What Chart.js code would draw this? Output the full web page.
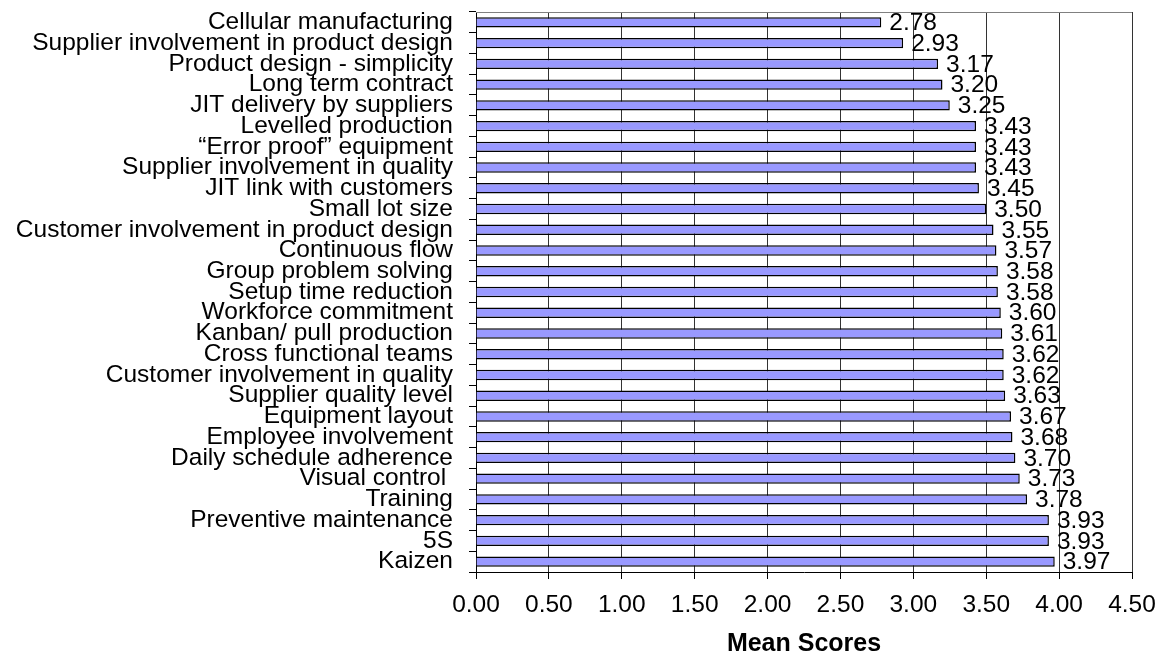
<!DOCTYPE html>
<html lang="en">
<head>
    <meta charset="UTF-8">
    <title>Mean Scores</title>
    <script src="https://cdn.jsdelivr.net/npm/chart.js@4.4.0/dist/chart.umd.min.js"></script>
    <style>
        body {
            margin: 0;
            background: #ffffff;
        }
        .chart-container {
            position: relative;
            width: 1158px;
            height: 657px;
        }
    </style>
</head>
<body>
    <div class="chart-container">
        <canvas id="meanChart"></canvas>
    </div>

    <script>
        // Practices, top to bottom as in the picture
        const practices = [
            'Cellular manufacturing',
            'Supplier involvement in product design',
            'Product design - simplicity',
            'Long term contract',
            'JIT delivery by suppliers',
            'Levelled production',
            '\u201cError proof\u201d equipment',
            'Supplier involvement in quality',
            'JIT link with customers',
            'Small lot size',
            'Customer involvement in product design',
            'Continuous flow',
            'Group problem solving',
            'Setup time reduction',
            'Workforce commitment',
            'Kanban/ pull production',
            'Cross functional teams',
            'Customer involvement in quality',
            'Supplier quality level',
            'Equipment layout',
            'Employee involvement',
            'Daily schedule adherence',
            'Visual control ',
            'Training',
            'Preventive maintenance',
            '5S',
            'Kaizen'
        ];
        const meanScores = [2.78, 2.93, 3.17, 3.20, 3.25, 3.43, 3.43, 3.43, 3.45, 3.50,
                            3.55, 3.57, 3.58, 3.58, 3.60, 3.61, 3.62, 3.62, 3.63, 3.67,
                            3.68, 3.70, 3.73, 3.78, 3.93, 3.93, 3.97];
        const axisMin = 0;
        const axisMax = 4.5;
        const axisStep = 0.5;
        const axisTitle = 'Mean Scores';

        const fontFamily = '"Liberation Sans", Arial, sans-serif';
        Chart.defaults.font.family = fontFamily;
        Chart.defaults.color = '#000';

        // value labels at the end of each bar
        const valueLabels = {
            id: 'valueLabels',
            afterDatasetsDraw(chart) {
                const ctx = chart.ctx;
                const meta = chart.getDatasetMeta(0);
                ctx.save();
                ctx.font = '24.5px ' + fontFamily;
                ctx.fillStyle = '#000';
                ctx.textAlign = 'left';
                ctx.textBaseline = 'middle';
                meta.data.forEach((bar, i) => {
                    ctx.fillText(meanScores[i].toFixed(2), bar.x + 8, bar.y + 1);
                });
                ctx.restore();
            }
        };

        // grey line along the top of the plot area
        const topBorder = {
            id: 'topBorder',
            afterDraw(chart) {
                const a = chart.chartArea;
                const ctx = chart.ctx;
                ctx.save();
                ctx.strokeStyle = '#808080';
                ctx.lineWidth = 1;
                ctx.beginPath();
                ctx.moveTo(a.left, a.top + 0.5);
                ctx.lineTo(a.right, a.top + 0.5);
                ctx.stroke();
                ctx.restore();
            }
        };

        const ctx = document.getElementById('meanChart').getContext('2d');
        new Chart(ctx, {
            type: 'bar',
            data: {
                labels: practices,
                datasets: [{
                    data: meanScores,
                    backgroundColor: '#9999ff',
                    borderColor: '#000',
                    borderWidth: 1.5,
                    barPercentage: 0.5,
                    categoryPercentage: 1.0
                }]
            },
            plugins: [valueLabels, topBorder],
            options: {
                indexAxis: 'y',
                responsive: true,
                maintainAspectRatio: false,
                animation: false,
                layout: {
                    padding: { top: 12, right: 26, bottom: 0, left: 0 }
                },
                plugins: {
                    legend: { display: false },
                    tooltip: { enabled: false }
                },
                scales: {
                    x: {
                        min: axisMin,
                        max: axisMax,
                        afterFit: (s) => {
                            s.height = 85;
                            s.paddingLeft = 0;
                            s.paddingRight = 0;
                        },
                        ticks: {
                            stepSize: axisStep,
                            padding: 12,
                            font: { size: 24.5 },
                            callback: (v) => Number(v).toFixed(2)
                        },
                        grid: {
                            color: '#333',
                            lineWidth: 1,
                            tickLength: 7,
                            tickColor: '#000'
                        },
                        border: { color: '#000', width: 1 },
                        title: {
                            display: true,
                            text: axisTitle,
                            font: { size: 25, weight: 'bold', lineHeight: 1 },
                            padding: { top: 0, bottom: 0 }
                        }
                    },
                    y: {
                        afterFit: (s) => {
                            s.width = 476;
                            s.paddingTop = 0;
                            s.paddingBottom = 0;
                        },
                        ticks: {
                            autoSkip: false,
                            padding: 16,
                            font: { size: 24.5 }
                        },
                        grid: {
                            offset: true,
                            drawOnChartArea: false,
                            tickLength: 7,
                            color: '#000'
                        },
                        border: { color: '#000', width: 1 }
                    }
                }
            }
        });
    </script>
</body>
</html>
